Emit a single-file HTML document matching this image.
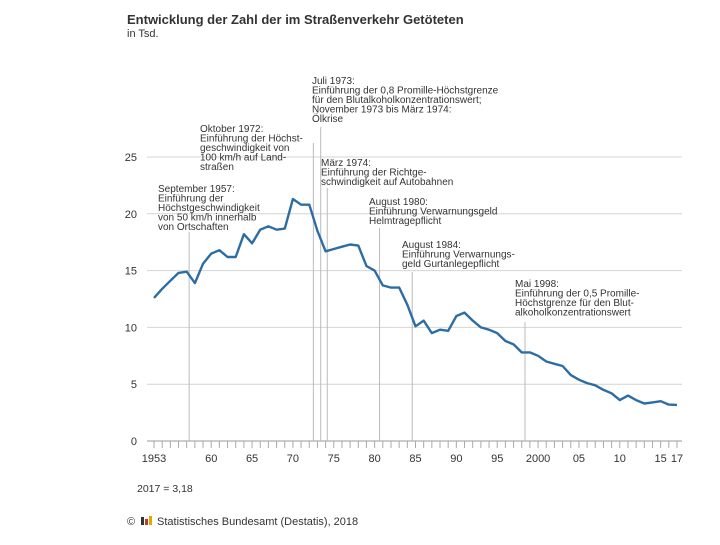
<!DOCTYPE html>
<html><head><meta charset="utf-8"><style>
body{margin:0;background:#fff;width:720px;height:540px;overflow:hidden;font-family:"Liberation Sans",sans-serif;}
svg text{font-family:"Liberation Sans",sans-serif;}
</style></head><body>
<svg id="chart" width="720" height="540">
<text x="127" y="24" font-size="13" font-weight="bold" fill="#333">Entwicklung der Zahl der im Straßenverkehr Getöteten</text>
<text x="127" y="37" font-size="11" fill="#333">in Tsd.</text>
<g id="grid"></g><g id="ann"></g><g id="xaxis"></g>
<path id="line" fill="none" stroke="#2e6da4" stroke-width="2.4" stroke-linejoin="round"></path>
<text x="137" y="492" font-size="10.5" fill="#333">2017 = 3,18</text>
<text x="127" y="525" font-size="11" fill="#333">©</text>
<g><rect x="141" y="517" width="3" height="8" fill="#333"/><rect x="145" y="519" width="3" height="6" fill="#c0392b"/><rect x="149" y="516" width="3" height="9" fill="#e0a800"/></g>
<text x="157" y="525" font-size="11" fill="#333">Statistisches Bundesamt (Destatis), 2018</text>
</svg>
<script>
const years=[];for(let y=1953;y<=2017;y++)years.push(y);
const values=[12.6,13.4,14.1,14.8,14.9,13.9,15.6,16.5,16.8,16.2,16.2,18.2,17.4,18.6,18.9,18.6,18.7,21.3,20.8,20.8,18.5,16.7,16.9,17.1,17.3,17.2,15.4,15.0,13.7,13.5,13.5,12.0,10.1,10.6,9.5,9.8,9.7,11.0,11.3,10.6,10.0,9.8,9.5,8.8,8.5,7.8,7.8,7.5,7.0,6.8,6.6,5.8,5.4,5.1,4.9,4.5,4.2,3.6,4.0,3.6,3.3,3.4,3.5,3.2,3.18];
const yTicks=[0,5,10,15,20,25];
const xTickYears=[1953,1960,1965,1970,1975,1980,1985,1990,1995,2000,2005,2010,2015,2017];
const xTickLabels=["1953","60","65","70","75","80","85","90","95","2000","05","10","15","17"];
const annYears=[1957.3,1972.5,1973.4,1974.2,1980.6,1984.6,1998.4];
const annTops=[232,143,127,188,228,272,322];
const annTexts=[
["September 1957:","Einführung der","Höchstgeschwindigkeit","von 50 km/h innerhalb","von Ortschaften"],
["Oktober 1972:","Einführung der Höchst-","geschwindigkeit von","100 km/h auf Land-","straßen"],
["Juli 1973:","Einführung der 0,8 Promille-Höchstgrenze","für den Blutalkoholkonzentrationswert;","November 1973 bis März 1974:","Ölkrise"],
["März 1974:","Einführung der Richtge-","schwindigkeit auf Autobahnen"],
["August 1980:","Einführung Verwarnungsgeld","Helmtragepflicht"],
["August 1984:","Einführung Verwarnungs-","geld Gurtanlegepflicht"],
["Mai 1998:","Einführung der 0,5 Promille-","Höchstgrenze für den Blut-","alkoholkonzentrationswert"]];
const annTextPos=[[158,192],[200,132],[312,84],[321,166],[369,205],[402,248],[515,287]];
const X=y=>154+(y-1953)*(523/64), Y=v=>441-v*(284/25);
const NS="http://www.w3.org/2000/svg";
function mk(tag,attrs,parent){const e=document.createElementNS(NS,tag);for(const k in attrs)e.setAttribute(k,attrs[k]);parent.appendChild(e);return e;}
const grid=document.getElementById('grid');
yTicks.forEach(t=>{
 const l=mk('line',{x1:147,x2:682,y1:Y(t),y2:Y(t),stroke:t===0?'#999':'#d4d4d4','stroke-width':1},grid);
 
 
 const tx=mk('text',{x:137,y:Y(t)+4,'font-size':11,fill:'#333','text-anchor':'end'},grid);
 tx.textContent=t;
 
 
});
const xa=document.getElementById('xaxis');
years.forEach(y=>{const l=mk('line',{x1:X(y),x2:X(y),y1:441,y2:448,stroke:'#aaa','stroke-width':1},xa);
 
 });
xTickYears.forEach((y,i)=>{const t=mk('text',{x:X(y),y:462,'font-size':11,fill:'#333','text-anchor':'middle'},xa);t.textContent=xTickLabels[i];
 
 });
const ann=document.getElementById('ann');
annYears.forEach((y,i)=>{
 const l=mk('line',{x1:X(y),x2:X(y),y1:annTops[i],y2:441,stroke:'#bbb','stroke-width':1},ann);
 
 
 const t=mk('text',{x:annTextPos[i][0],y:annTextPos[i][1],'font-size':10,fill:'#333'},ann);
 
 
 annTexts[i].forEach((s,j)=>{const ts=mk('tspan',{x:annTextPos[i][0],dy:j?9.5:0},t);ts.textContent=s;});
});
document.getElementById('line').setAttribute('d',values.map((v,i)=>(i?'L':'M')+X(years[i]).toFixed(1)+','+Y(v).toFixed(1)).join(''));
</script>
</body></html>
